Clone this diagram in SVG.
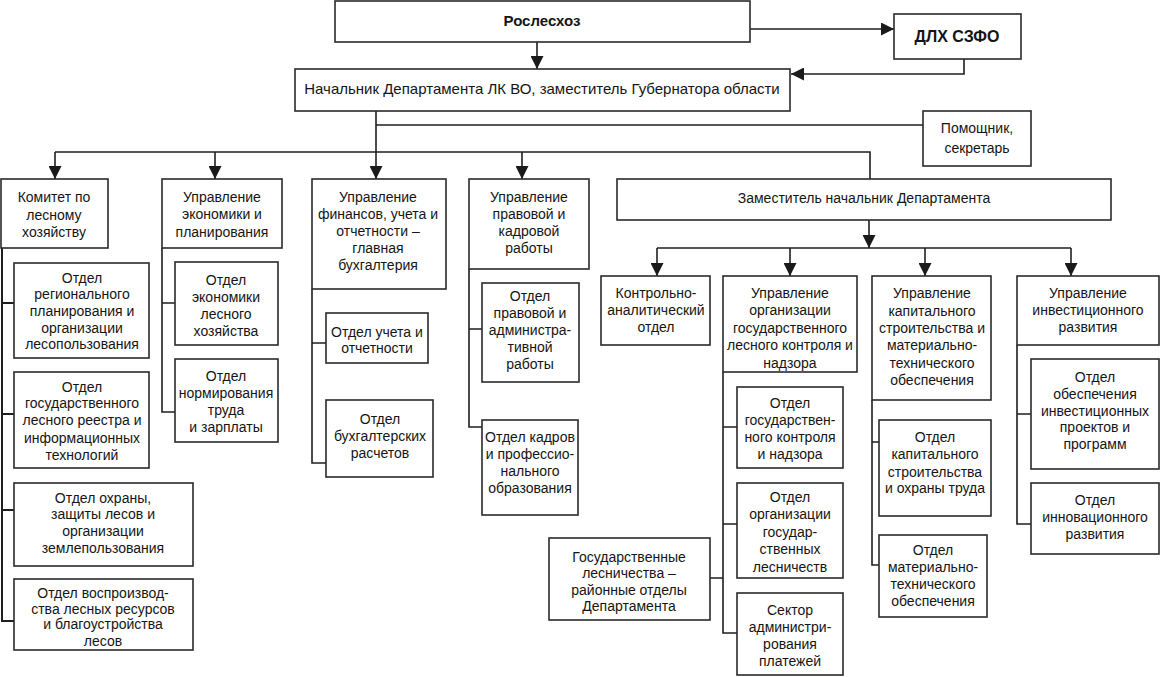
<svg xmlns="http://www.w3.org/2000/svg" width="1160" height="677" viewBox="0 0 1160 677">
<defs>
<marker id="ah" viewBox="0 0 14 14" refX="14" refY="7" markerWidth="14" markerHeight="13" markerUnits="userSpaceOnUse" orient="auto">
<path d="M0,0 L14,7 L0,14 z" fill="#1a1a1a"/>
</marker>
<style>
rect{fill:#fff;stroke:#2a2a2a;stroke-width:1.6}
text{font-family:"Liberation Sans",Arial,sans-serif;font-size:14px;fill:#151515;text-anchor:middle}
.b{font-weight:bold;font-size:15px}
.b2{font-weight:bold;font-size:16px}
.l{font-size:15px}
#conn path,#conn line{fill:none;stroke:#1f1f1f;stroke-width:1.6}
.a{marker-end:url(#ah)}
</style>
</defs>
<rect x="0" y="0" width="1160" height="677" style="fill:#fff;stroke:none"/>
<g id="conn">
<line class="a" x1="537" y1="42" x2="537" y2="69"/>
<line class="a" x1="750" y1="29" x2="894" y2="29"/>
<path class="a" d="M964,59 V74 H791"/>
<line class="a" x1="376" y1="111" x2="376" y2="179"/>
<line x1="376" y1="125" x2="923" y2="125"/>
<path d="M55,152 H870 V179"/>
<line class="a" x1="55" y1="152" x2="55" y2="179"/>
<line class="a" x1="215" y1="152" x2="215" y2="179"/>
<line class="a" x1="522" y1="152" x2="522" y2="179"/>
<line class="a" x1="869" y1="220" x2="869" y2="248"/>
<line x1="657" y1="248" x2="1071" y2="248"/>
<line class="a" x1="657" y1="248" x2="657" y2="276"/>
<line class="a" x1="790" y1="248" x2="790" y2="276"/>
<line class="a" x1="925" y1="248" x2="925" y2="276"/>
<line class="a" x1="1071" y1="248" x2="1071" y2="276"/>
<path d="M2,248 V621 H14 M2,303 H14 M2,414 H14 M2,510 H14" style="stroke-width:2"/>
<path d="M162,248 V412 H175 M162,303 H175"/>
<path d="M312,289 V463 H326 M312,343 H326"/>
<path d="M469,269 V427 H482 M469,329 H482"/>
<path d="M723,372 V633 H737 M723,427 H737 M723,524 H737 M710,578 H723"/>
<path d="M872,400 V565 H879 M872,442 H879"/>
<path d="M1017,345 V524 H1031 M1017,414 H1031"/>
</g>
<g id="rosleshoz"><rect x="335" y="1" width="415" height="41"/><text class="b" x="542" y="26">Рослесхоз</text></g>
<g id="dlh"><rect x="894" y="14" width="127" height="45"/><text class="b2" x="957" y="42">ДЛХ СЗФО</text></g>
<g id="nach"><rect x="295" y="69" width="495" height="42"/><text class="l" x="542" y="94">Начальник Департамента ЛК ВО, заместитель Губернатора области</text></g>
<g id="pomosh"><rect x="923" y="111" width="108" height="55"/><text x="977" y="133">Помощник,</text><text x="977" y="153">секретарь</text></g>
<g id="komitet"><rect x="1" y="179" width="107" height="69"/><text x="54" y="202">Комитет по</text><text x="54" y="220">лесному</text><text x="54" y="237">хозяйству</text></g>
<g id="k1"><rect x="14" y="263" width="135" height="95"/><text x="82" y="283">Отдел</text><text x="82" y="299">регионального</text><text x="82" y="316">планирования и</text><text x="82" y="333">организации</text><text x="82" y="349">лесопользования</text></g>
<g id="k2"><rect x="14" y="372" width="135" height="96"/><text x="82" y="392">Отдел</text><text x="82" y="408">государственного</text><text x="82" y="425">лесного реестра и</text><text x="82" y="443">информационных</text><text x="82" y="460">технологий</text></g>
<g id="k3"><rect x="14" y="483" width="179" height="83"/><text x="103" y="503">Отдел охраны,</text><text x="103" y="519">защиты лесов и</text><text x="103" y="536">организации</text><text x="103" y="553">землепользования</text></g>
<g id="k4"><rect x="14" y="579" width="179" height="71"/><text x="103" y="598">Отдел воспроизвод-</text><text x="103" y="614">ства лесных ресурсов</text><text x="103" y="629">и благоустройства</text><text x="103" y="646">лесов</text></g>
<g id="upr_econ"><rect x="162" y="179" width="120" height="69"/><text x="222" y="202">Управление</text><text x="222" y="219">экономики и</text><text x="222" y="237">планирования</text></g>
<g id="e1"><rect x="175" y="262" width="103" height="83"/><text x="226" y="285">Отдел</text><text x="226" y="302">экономики</text><text x="226" y="319">лесного</text><text x="226" y="336">хозяйства</text></g>
<g id="e2"><rect x="175" y="359" width="103" height="83"/><text x="226" y="381">Отдел</text><text x="226" y="398">нормирования</text><text x="226" y="415">труда</text><text x="226" y="432">и зарплаты</text></g>
<g id="upr_fin"><rect x="312" y="179" width="134" height="110"/><text x="378" y="202">Управление</text><text x="378" y="219">финансов, учета и</text><text x="378" y="236">отчетности –</text><text x="378" y="253">главная</text><text x="378" y="270">бухгалтерия</text></g>
<g id="f1"><rect x="326" y="313" width="102" height="50"/><text x="377" y="337">Отдел учета и</text><text x="377" y="353">отчетности</text></g>
<g id="f2"><rect x="326" y="400" width="107" height="77"/><text x="380" y="424">Отдел</text><text x="380" y="441">бухгалтерских</text><text x="380" y="458">расчетов</text></g>
<g id="upr_prav"><rect x="469" y="179" width="120" height="90"/><text x="529" y="202">Управление</text><text x="529" y="219">правовой и</text><text x="529" y="236">кадровой</text><text x="529" y="253">работы</text></g>
<g id="p1"><rect x="482" y="283" width="97" height="99"/><text x="530" y="301">Отдел</text><text x="530" y="318">правовой и</text><text x="530" y="335">администра-</text><text x="530" y="352">тивной</text><text x="530" y="369">работы</text></g>
<g id="p2"><rect x="482" y="420" width="96" height="95"/><text x="530" y="442">Отдел кадров</text><text x="530" y="459">и профессио-</text><text x="530" y="476">нального</text><text x="530" y="493">образования</text></g>
<g id="zam"><rect x="617" y="179" width="494" height="41"/><text x="864" y="203">Заместитель начальник Департамента</text></g>
<g id="kontrol"><rect x="601" y="276" width="109" height="69"/><text x="656" y="298">Контрольно-</text><text x="656" y="315">аналитический</text><text x="656" y="332">отдел</text></g>
<g id="upr_org"><rect x="723" y="276" width="134" height="96"/><text x="790" y="298">Управление</text><text x="790" y="315">организации</text><text x="790" y="333">государственного</text><text x="790" y="350">лесного контроля и</text><text x="790" y="368">надзора</text></g>
<g id="o1"><rect x="737" y="387" width="106" height="81"/><text x="790" y="408">Отдел</text><text x="790" y="425">государствен-</text><text x="790" y="442">ного контроля</text><text x="790" y="459">и надзора</text></g>
<g id="o2"><rect x="737" y="483" width="106" height="95"/><text x="790" y="502">Отдел</text><text x="790" y="519">организации</text><text x="790" y="537">государ-</text><text x="790" y="554">ственных</text><text x="790" y="572">лесничеств</text></g>
<g id="o3"><rect x="737" y="593" width="106" height="82"/><text x="790" y="615">Сектор</text><text x="790" y="632">администри-</text><text x="790" y="649">рования</text><text x="790" y="666">платежей</text></g>
<g id="gos_les"><rect x="549" y="538" width="161" height="82"/><text x="629" y="562">Государственные</text><text x="629" y="578">лесничества –</text><text x="629" y="595">районные отделы</text><text x="629" y="611">Департамента</text></g>
<g id="upr_kap"><rect x="872" y="276" width="119" height="124"/><text x="932" y="298">Управление</text><text x="932" y="316">капитального</text><text x="932" y="333">строительства и</text><text x="932" y="350">материально-</text><text x="932" y="368">технического</text><text x="932" y="385">обеспечения</text></g>
<g id="c1"><rect x="879" y="420" width="112" height="96"/><text x="935" y="442">Отдел</text><text x="935" y="459">капитального</text><text x="935" y="477">строительства</text><text x="935" y="493">и охраны труда</text></g>
<g id="c2"><rect x="879" y="535" width="108" height="82"/><text x="933" y="555">Отдел</text><text x="933" y="572">материально-</text><text x="933" y="589">технического</text><text x="933" y="606">обеспечения</text></g>
<g id="upr_inv"><rect x="1017" y="276" width="142" height="69"/><text x="1088" y="298">Управление</text><text x="1088" y="315">инвестиционного</text><text x="1088" y="332">развития</text></g>
<g id="i1"><rect x="1031" y="359" width="128" height="110"/><text x="1095" y="382">Отдел</text><text x="1095" y="399">обеспечения</text><text x="1095" y="416">инвестиционных</text><text x="1095" y="432">проектов и</text><text x="1095" y="449">программ</text></g>
<g id="i2"><rect x="1031" y="483" width="128" height="71"/><text x="1095" y="505">Отдел</text><text x="1095" y="522">инновационного</text><text x="1095" y="539">развития</text></g>
</svg>
